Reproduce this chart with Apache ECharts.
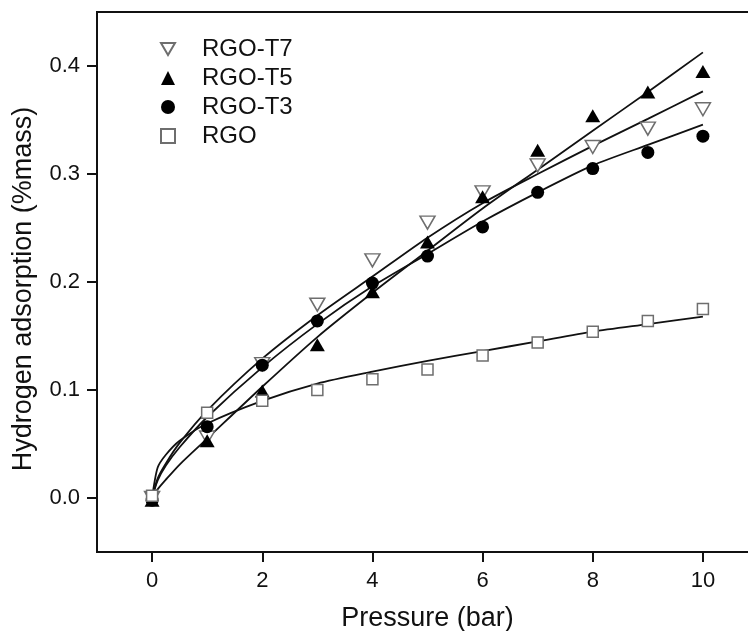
<!DOCTYPE html>
<html>
<head>
<meta charset="utf-8">
<script src="https://cdn.jsdelivr.net/npm/echarts@6/dist/echarts.min.js"></script>
<style>
  html, body { margin: 0; padding: 0; background: #fff; }
  #chart { width: 748px; height: 631px; }
</style>
</head>
<body>
<div id="chart"></div>
<script>
// ---- data ----
const pressure = [0, 1, 2, 3, 4, 5, 6, 7, 8, 9, 10];
const rgoT7 = [0.000, 0.056, 0.124, 0.179, 0.220, 0.255, 0.283, 0.308, 0.325, 0.342, 0.360];
const rgoT5 = [-0.002, 0.053, 0.099, 0.142, 0.191, 0.237, 0.279, 0.322, 0.354, 0.376, 0.395];
const rgoT3 = [-0.002, 0.066, 0.123, 0.164, 0.199, 0.224, 0.251, 0.283, 0.305, 0.320, 0.335];
const rgo   = [0.002, 0.079, 0.090, 0.100, 0.110, 0.119, 0.132, 0.144, 0.154, 0.164, 0.175];

// fitted curves
const fitX   = [0, 0.1, 0.25, 0.5, 1, 2, 3, 4, 5, 6, 7, 8, 9, 10];
const fitT7  = [0, 0.018, 0.032, 0.051, 0.081, 0.129, 0.169, 0.205, 0.241, 0.273, 0.300, 0.326, 0.351, 0.3765];
const fitT5  = [0, 0.008, 0.017, 0.031, 0.055, 0.103, 0.149, 0.190, 0.229, 0.268, 0.304, 0.340, 0.376, 0.4126];
const fitT3  = [0, 0.016, 0.030, 0.047, 0.075, 0.121, 0.161, 0.196, 0.226, 0.256, 0.283, 0.308, 0.327, 0.3457];
const fitRGO = [0, 0.028, 0.040, 0.053, 0.069, 0.090, 0.106, 0.117, 0.127, 0.136, 0.145, 0.154, 0.161, 0.168];

const xTicks = [0, 2, 4, 6, 8, 10];
const yTicks = [0, 0.1, 0.2, 0.3, 0.4];
const seriesNames = ['RGO-T7', 'RGO-T5', 'RGO-T3', 'RGO'];

const pair = (xs, ys) => xs.map((x, i) => [x, ys[i]]);
const FONT = 'Liberation Sans, Arial, Helvetica, sans-serif';

const chart = echarts.init(document.getElementById('chart'), null, { renderer: 'canvas' });

function fitLine(name, ys) {
  return {
    name: name, type: 'line', data: pair(fitX, ys),
    showSymbol: false, symbol: 'none', smooth: 0.25,
    lineStyle: { color: '#111', width: 1.8 },
    z: 2, silent: true, animation: false
  };
}

const option = {
  backgroundColor: '#ffffff',
  animation: false,
  grid: {
    left: 97, top: 12, right: -10, bottom: 79,
    outerBoundsMode: 'none', containLabel: false,
    show: true, borderColor: '#111', borderWidth: 2, backgroundColor: 'transparent'
  },
  legend: {
    data: [
      { name: seriesNames[0], icon: 'path://M0,0L20,0L10,17.3Z' },
      { name: seriesNames[1] },
      { name: seriesNames[2] },
      { name: seriesNames[3] }
    ],
    orient: 'vertical',
    left: 155, top: 32,
    itemWidth: 14, itemHeight: 14, itemGap: 5,
    selectedMode: false,
    textStyle: { fontFamily: FONT, fontSize: 24, color: '#111', lineHeight: 24, padding: [0, 0, 0, 22] }
  },
  xAxis: {
    type: 'value', min: -1, max: 11,
    name: 'Pressure (bar)', nameLocation: 'middle', nameGap: 53,
    nameTextStyle: { fontFamily: FONT, fontSize: 27, color: '#111' },
    axisLine: { show: true, onZero: false, lineStyle: { color: '#111', width: 2 } },
    axisTick: { show: true, length: 10, lineStyle: { color: '#111', width: 2 }, customValues: xTicks },
    axisLabel: { fontFamily: FONT, fontSize: 22, color: '#111', margin: 18, customValues: xTicks },
    splitLine: { show: false }
  },
  yAxis: {
    type: 'value', min: -0.05, max: 0.45,
    name: 'Hydrogen adsorption (%mass)', nameLocation: 'middle', nameGap: 60,
    nameTextStyle: { fontFamily: FONT, fontSize: 27, color: '#111', padding: [0, 14, 0, 0] },
    axisLine: { show: true, onZero: false, lineStyle: { color: '#111', width: 2 } },
    axisTick: { show: true, length: 10, lineStyle: { color: '#111', width: 2 }, customValues: yTicks },
    axisLabel: { fontFamily: FONT, fontSize: 22, color: '#111', margin: 17, customValues: yTicks,
      formatter: v => v.toFixed(1) },
    splitLine: { show: false }
  },
  series: [
    fitLine('fit-T7', fitT7),
    fitLine('fit-T5', fitT5),
    fitLine('fit-T3', fitT3),
    fitLine('fit-RGO', fitRGO),
    {
      name: seriesNames[0], type: 'scatter', data: pair(pressure, rgoT7),
      symbol: 'triangle', symbolRotate: 180, symbolSize: [15, 13],
      itemStyle: { color: '#ffffff', borderColor: '#6e6e6e', borderWidth: 1.5, opacity: 1 }, z: 5
    },
    {
      name: seriesNames[1], type: 'scatter', data: pair(pressure, rgoT5),
      symbol: 'triangle', symbolSize: [15, 13],
      itemStyle: { color: '#000000', opacity: 1 }, z: 5
    },
    {
      name: seriesNames[2], type: 'scatter', data: pair(pressure, rgoT3),
      symbol: 'circle', symbolSize: 13,
      itemStyle: { color: '#000000', opacity: 1 }, z: 5
    },
    {
      name: seriesNames[3], type: 'scatter', data: pair(pressure, rgo),
      symbol: 'rect', symbolSize: 11,
      itemStyle: { color: '#ffffff', borderColor: '#6e6e6e', borderWidth: 1.5, opacity: 1 }, z: 5
    }
  ]
};
chart.setOption(option);
</script>
</body>
</html>
